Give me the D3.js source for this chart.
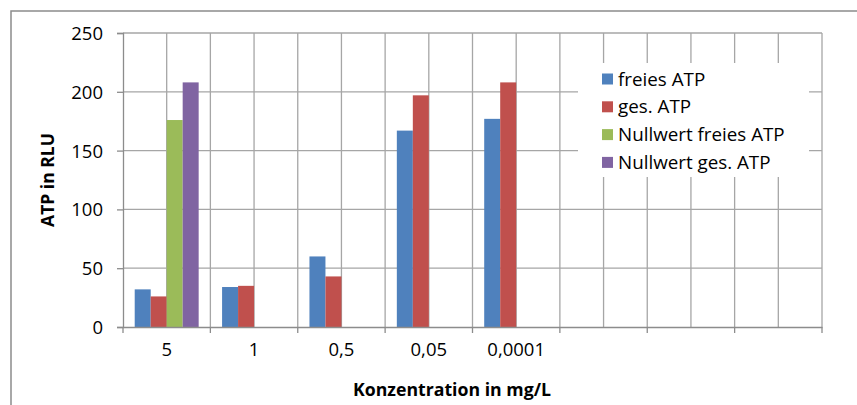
<!DOCTYPE html>
<html><head><meta charset="utf-8">
<script src="https://cdn.jsdelivr.net/npm/d3@7/dist/d3.min.js"></script>
<style>body{margin:0;background:#fff;}svg{display:block;}text{font-family:"Open Sans",sans-serif;fill:#000;}</style>
</head><body>
<script>
const categories = ["5","1","0,5","0,05","0,0001","","",""];
const seriesNames = ["freies ATP","ges. ATP","Nullwert freies ATP","Nullwert ges. ATP"];
const freiesATP = [32,34,60,167,177,null,null,null];
const gesATP = [26,35,43,197,208,null,null,null];
const nullFreies = [176,null,null,null,null,null,null,null];
const nullGes = [208,null,null,null,null,null,null,null];
const yTicks = [0,50,100,150,200,250];
const colors = ["#4F81BD","#C0504D","#9BBB59","#8064A2"];
const allSeries = [freiesATP,gesATP,nullFreies,nullGes];

const W=857,H=405;
const svg=d3.select("body").append("svg").attr("width",W).attr("height",H);
svg.append("rect").attr("x",11).attr("y",11).attr("width",W+20).attr("height",H+20)
  .attr("fill","#fff").attr("stroke","#8c8c8c").attr("stroke-width",1.5);

const L=123,R=822,T=33,B=327;
const idx=categories.map((d,i)=>i);
const x=d3.scaleBand().domain(idx).range([L,R]).paddingInner(0).paddingOuter(0);
const y=d3.scaleLinear().domain([0,250]).range([B,T]);
const groupW=x.bandwidth()*0.732;
const xs=d3.scaleBand().domain(d3.range(seriesNames.length)).range([0,groupW]);

const g=svg.append("g");
g.selectAll(".hg").data(yTicks.filter(d=>d>0)).enter().append("line")
  .attr("x1",L).attr("x2",R).attr("y1",d=>y(d)).attr("y2",d=>y(d))
  .attr("stroke","#a6a6a6").attr("stroke-width",1.3);
const vpos=[];
idx.forEach(i=>{vpos.push(x(i)+x.bandwidth()/2);vpos.push(x(i)+x.bandwidth());});
g.selectAll(".vg").data(vpos).enter().append("line")
  .attr("x1",d=>d).attr("x2",d=>d).attr("y1",T).attr("y2",B)
  .attr("stroke","#a6a6a6").attr("stroke-width",1.3);

allSeries.forEach((s,si)=>{
  g.selectAll(".b"+si).data(s.map((v,i)=>({v,i})).filter(d=>d.v!=null)).enter().append("rect")
    .attr("x",d=>x(d.i)+(x.bandwidth()-groupW)/2+xs(si))
    .attr("width",xs.bandwidth())
    .attr("y",d=>y(d.v)).attr("height",d=>B-y(d.v))
    .attr("fill",colors[si]);
});

const yAxis=d3.axisLeft(y).tickValues(yTicks).tickSize(6).tickPadding(14);
const ya=svg.append("g").attr("transform",`translate(${L},0)`).call(yAxis);
ya.select(".domain").attr("stroke","#8c8c8c").attr("stroke-width",1.3);
ya.selectAll(".tick line").attr("stroke","#8c8c8c").attr("stroke-width",1.3);
ya.selectAll("text").style("font-size","18.5px").attr("dy","0.35em");

const xAxis=d3.axisBottom(x).tickFormat(i=>categories[i]).tickSize(0).tickPadding(16);
const xa=svg.append("g").attr("transform",`translate(0,${B})`).call(xAxis);
xa.select(".domain").attr("stroke","#8c8c8c").attr("stroke-width",1.3);
xa.selectAll("text").style("font-size","18.5px");
const bnd=idx.map(i=>x(i)).concat([R]);
svg.append("g").selectAll("line").data(bnd).enter().append("line")
  .attr("x1",d=>d).attr("x2",d=>d).attr("y1",B).attr("y2",B+6)
  .attr("stroke","#8c8c8c").attr("stroke-width",1.3);

svg.append("text").attr("x",452).attr("y",396).attr("text-anchor","middle")
  .style("font-size","17.7px").style("font-weight","bold").text("Konzentration in mg/L");
svg.append("text").attr("transform",`translate(54,${(T+B)/2}) rotate(-90)`).attr("text-anchor","middle")
  .style("font-size","17.5px").style("font-weight","bold").text("ATP in RLU");

const lg=svg.append("g");
lg.append("rect").attr("x",578).attr("y",63).attr("width",231).attr("height",114).attr("fill","#fff");
seriesNames.forEach((n,i)=>{
  const cy=79+i*27.8;
  lg.append("rect").attr("x",602).attr("y",cy-5.5).attr("width",11).attr("height",11).attr("fill",colors[i]);
  lg.append("text").attr("x",618).attr("y",cy).attr("dy","0.35em").style("font-size","18.8px").text(n);
});
</script>
</body></html>
